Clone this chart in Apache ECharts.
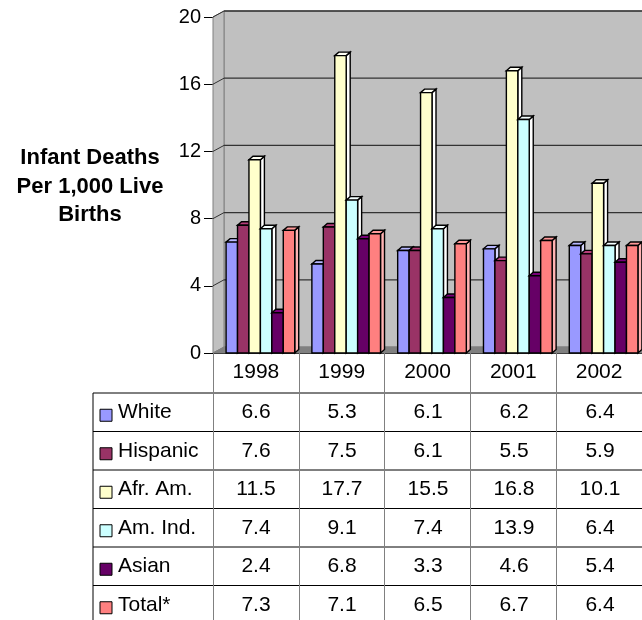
<!DOCTYPE html>
<html>
<head>
<meta charset="utf-8">
<script src="https://cdn.jsdelivr.net/npm/echarts@6/dist/echarts.min.js"></script>
<style>
html, body { margin: 0; padding: 0; background: #fff; }
#main { width: 642px; height: 620px; }
</style>
</head>
<body>
<div id="main"></div>
<script>
// infant deaths per 1,000 live births, by group
var years = ['1998', '1999', '2000', '2001', '2002'];
var groupNames = ['White', 'Hispanic', 'Afr. Am.', 'Am. Ind.', 'Asian', 'Total*'];
var white    = [6.6, 5.3, 6.1, 6.2, 6.4];
var hispanic = [7.6, 7.5, 6.1, 5.5, 5.9];
var afrAm    = [11.5, 17.7, 15.5, 16.8, 10.1];
var amInd    = [7.4, 9.1, 7.4, 13.9, 6.4];
var asian    = [2.4, 6.8, 3.3, 4.6, 5.4];
var total    = [7.3, 7.1, 6.5, 6.7, 6.4];
var yMin = 0, yMax = 20, yStep = 4;
var yTitle = 'Infant Deaths\nPer 1,000 Live\nBirths';

var groupValues = [white, hispanic, afrAm, amInd, asian, total];
var colors = ['#9999FF', '#993366', '#FFFFCC', '#CCFFFF', '#660066', '#FF8080'];

var FONT = 'Liberation Sans, Arial, sans-serif';
var WALL_DX = 11, WALL_DY = -6;   // depth of back wall
var BAR_DX = 4, BAR_DY = -3.5;    // depth of each bar
var gridLeft = 213, gridTop = 17, gridW = 430, gridH = 336;
var rowTop = 393, rowH = 38.5, tableLeft = 93;

var myChart = echarts.init(document.getElementById('main'));

function wallRender(params, api) {
    var cs = params.coordSys;
    var x = cs.x, y = cs.y, w = cs.width, h = cs.height;
    var kids = [
        {type: 'rect', shape: {x: x + WALL_DX, y: y + WALL_DY, width: w, height: h},
         style: {fill: '#C0C0C0', stroke: '#808080', lineWidth: 1}},
        {type: 'polygon', shape: {points: [[x, y], [x + WALL_DX, y + WALL_DY], [x + WALL_DX, y + h + WALL_DY], [x, y + h]]},
         style: {fill: '#C0C0C0', stroke: '#808080', lineWidth: 1}},
        {type: 'polygon', shape: {points: [[x, y + h], [x + WALL_DX, y + h + WALL_DY], [x + w + WALL_DX, y + h + WALL_DY], [x + w, y + h]]},
         style: {fill: '#808080', stroke: '#808080', lineWidth: 1}}
    ];
    for (var v = yMin + yStep; v <= yMax; v += yStep) {
        var yy = api.coord([0, v])[1];
        kids.push({type: 'line', shape: {x1: x + WALL_DX, y1: yy + WALL_DY, x2: x + w + WALL_DX, y2: yy + WALL_DY},
                   style: {stroke: '#333', lineWidth: 1.3}});
        kids.push({type: 'line', shape: {x1: x, y1: yy, x2: x + WALL_DX, y2: yy + WALL_DY},
                   style: {stroke: '#333', lineWidth: 1}});
    }
    return {type: 'group', children: kids};
}

function barRender(sIdx) {
    var c = colors[sIdx];
    var side = echarts.color.lift(c, -0.4);
    var topC = echarts.color.lift(c, -0.2);
    return function (params, api) {
        var cat = api.value(0), v = api.value(1);
        var base = api.coord([cat, 0]);
        var top = api.coord([cat, v]);
        var band = api.size([1, 0])[0];
        var w = band * 0.8 / groupNames.length;
        var x0 = base[0] - band * 0.4 + sIdx * w + 4.5;
        var y0 = top[1], y1 = base[1];
        var st = {stroke: '#000', lineWidth: 1.4};
        return {type: 'group', children: [
            {type: 'polygon', shape: {points: [[x0 + w, y0], [x0 + w + BAR_DX, y0 + BAR_DY], [x0 + w + BAR_DX, y1 + BAR_DY], [x0 + w, y1]]},
             style: echarts.util.extend({fill: side}, st)},
            {type: 'polygon', shape: {points: [[x0, y0], [x0 + BAR_DX, y0 + BAR_DY], [x0 + w + BAR_DX, y0 + BAR_DY], [x0 + w, y0]]},
             style: echarts.util.extend({fill: topC}, st)},
            {type: 'rect', shape: {x: x0, y: y0, width: w, height: y1 - y0},
             style: echarts.util.extend({fill: c}, st)}
        ]};
    };
}

var series = [{
    type: 'custom', name: 'wall', renderItem: wallRender, z: 1, silent: true,
    data: [[0, 0]], encode: {x: 0, y: 1}
}];
for (var s = 0; s < groupNames.length; s++) {
    var d = [];
    for (var i = 0; i < years.length; i++) d.push([i, groupValues[s][i]]);
    series.push({type: 'custom', name: groupNames[s], renderItem: barRender(s), z: 2,
                 data: d, encode: {x: 0, y: 1}});
}

// table below the axis
var graphics = [];
graphics.push({type: 'text', x: 90, y: 144,
    style: {text: yTitle, font: 'bold 22px ' + FONT, fill: '#000', textAlign: 'center', lineHeight: 28.5}});
for (var r = 0; r < groupNames.length; r++) {
    var ly = rowTop + r * rowH;
    graphics.push({type: 'line', shape: {x1: tableLeft, y1: ly, x2: 643, y2: ly}, style: {stroke: '#000', lineWidth: 1}});
    var cy = ly + rowH / 2;
    graphics.push({type: 'rect', shape: {x: 100, y: cy - 3, width: 12, height: 12},
        style: {fill: colors[r], stroke: '#000', lineWidth: 1}});
    graphics.push({type: 'text', x: 118, y: cy,
        style: {text: groupNames[r], font: '21px ' + FONT, fill: '#000', textVerticalAlign: 'middle'}});
    for (var k = 0; k < years.length; k++) {
        var cx = gridLeft + gridW / years.length * (k + 0.5);
        graphics.push({type: 'text', x: cx, y: cy,
            style: {text: groupValues[r][k].toFixed(1), font: '21px ' + FONT, fill: '#000',
                    textAlign: 'center', textVerticalAlign: 'middle'}});
    }
}
graphics.push({type: 'line', shape: {x1: tableLeft, y1: rowTop, x2: tableLeft, y2: 620}, style: {stroke: '#000', lineWidth: 1}});

var option = {
    backgroundColor: '#fff',
    animation: false,
    grid: {left: gridLeft, top: gridTop, width: gridW, height: gridH, containLabel: false},
    xAxis: {
        type: 'category', data: years,
        axisLine: {show: true, lineStyle: {color: '#000', width: 1}},
        axisTick: {show: true, interval: 0, length: 270, lineStyle: {color: '#808080'}},
        axisLabel: {color: '#000', fontSize: 21, fontFamily: FONT, margin: 9, interval: 0},
        splitLine: {show: false}
    },
    yAxis: {
        type: 'value', min: yMin, max: yMax, interval: yStep,
        axisLine: {show: true, lineStyle: {color: '#000', width: 1}},
        axisTick: {show: true, length: 9, lineStyle: {color: '#000'}},
        axisLabel: {color: '#000', fontSize: 20, fontFamily: FONT, margin: 12},
        splitLine: {show: false}
    },
    graphic: graphics,
    series: series
};

myChart.setOption(option);
</script>
</body>
</html>
